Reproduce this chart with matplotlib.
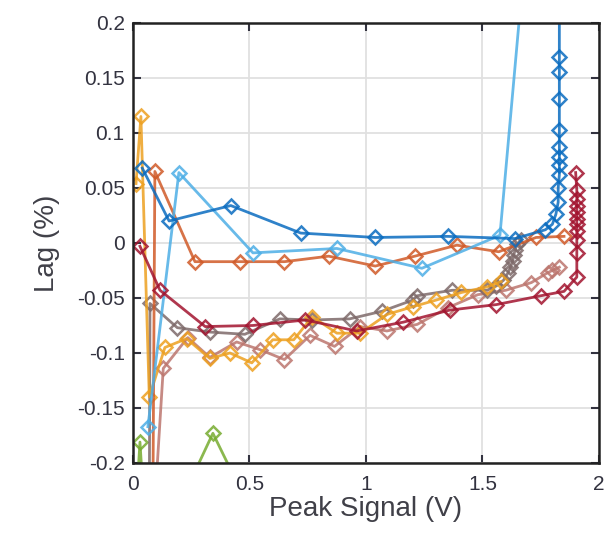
import numpy as np
import matplotlib.pyplot as plt

plt.rcParams['font.family'] = ['Liberation Sans', 'DejaVu Sans']

# peak signal (V) and lag (%) for each trace
x_blue = [0.04, 0.155, 0.42, 0.72, 1.04, 1.35, 1.64, 1.77, 1.80, 1.815, 1.825, 1.825, 1.83, 1.83, 1.83, 1.83, 1.83, 1.83, 1.83, 1.83, 1.83]
y_blue = [0.068, 0.020, 0.034, 0.009, 0.005, 0.006, 0.004, 0.012, 0.017, 0.026, 0.037, 0.050, 0.062, 0.071, 0.078, 0.087, 0.103, 0.131, 0.155, 0.169, 0.30]

x_lblue = [0.064, 0.197, 0.515, 0.875, 1.24, 1.575, 1.72]
y_lblue = [-0.167, 0.064, -0.009, -0.005, -0.023, 0.007, 0.35]

x_ored = [0.085, 0.094, 0.266, 0.46, 0.65, 0.84, 1.04, 1.21, 1.39, 1.57, 1.73, 1.85]
y_ored = [-0.25, 0.065, -0.017, -0.017, -0.017, -0.012, -0.021, -0.012, -0.002, -0.008, 0.005, 0.006]

x_orange = [0.013, 0.034, 0.07, 0.137, 0.23, 0.33, 0.416, 0.51, 0.60, 0.69, 0.77, 0.875, 0.975, 1.09, 1.20, 1.30, 1.41, 1.52, 1.58]
y_orange = [0.054, 0.115, -0.14, -0.095, -0.087, -0.105, -0.100, -0.109, -0.088, -0.088, -0.067, -0.082, -0.082, -0.065, -0.058, -0.052, -0.045, -0.040, -0.035]

x_green = [0.01, 0.03, 0.05, 0.25, 0.343, 0.44]
y_green = [-0.25, -0.181, -0.25, -0.215, -0.173, -0.215]

x_dred = [0.03, 0.116, 0.31, 0.515, 0.74, 0.96, 1.16, 1.36, 1.56, 1.75, 1.85, 1.905, 1.905, 1.905, 1.905, 1.905, 1.905, 1.905, 1.905, 1.905, 1.905, 1.90]
y_dred = [-0.003, -0.043, -0.076, -0.075, -0.070, -0.080, -0.072, -0.061, -0.056, -0.048, -0.044, -0.031, -0.009, 0.003, 0.011, 0.017, 0.022, 0.028, 0.034, 0.040, 0.048, 0.064]

x_gray = [0.07, 0.073, 0.19, 0.33, 0.48, 0.63, 0.77, 0.93, 1.07, 1.20, 1.22, 1.37, 1.52, 1.56, 1.59, 1.61, 1.62, 1.63, 1.635, 1.64, 1.65, 1.665]
y_gray = [-0.25, -0.055, -0.077, -0.081, -0.083, -0.069, -0.070, -0.069, -0.062, -0.052, -0.048, -0.043, -0.043, -0.039, -0.034, -0.027, -0.022, -0.016, -0.011, -0.006, -0.001, 0.003]

x_pink = [0.09, 0.13, 0.235, 0.33, 0.445, 0.545, 0.65, 0.76, 0.865, 0.975, 1.09, 1.22, 1.35, 1.48, 1.60, 1.71, 1.78, 1.80, 1.83]
y_pink = [-0.25, -0.114, -0.086, -0.104, -0.090, -0.097, -0.106, -0.084, -0.094, -0.076, -0.080, -0.074, -0.059, -0.047, -0.043, -0.036, -0.027, -0.025, -0.022]

series = [
    (x_green, y_green, '#77AC30'),
    (x_pink, y_pink, '#BC766E'),
    (x_gray, y_gray, '#7E6A6A'),
    (x_orange, y_orange, '#EDA020'),
    (x_ored, y_ored, '#D05A28'),
    (x_lblue, y_lblue, '#4DAEE6'),
    (x_dred, y_dred, '#A2142F'),
    (x_blue, y_blue, '#0A6CC0'),
]

fig = plt.figure(figsize=(6.05, 5.34), dpi=100)
ax = fig.add_axes([0.2198, 0.133, 0.7702, 0.824])

for xs, ys, c in series:
    ax.plot(xs, ys, color=c, lw=2, marker='D', markersize=7.5,
            markerfacecolor='none', markeredgewidth=1.8, alpha=0.85)

ax.set_xlim(0, 2)
ax.set_ylim(-0.2, 0.2)
ax.set_xticks([0, 0.5, 1, 1.5, 2])
ax.set_xticklabels(['0', '0.5', '1', '1.5', '2'])
ax.set_yticks(np.arange(-0.2, 0.201, 0.05))
ax.set_yticklabels(['-0.2', '-0.15', '-0.1', '-0.05', '0', '0.05', '0.1', '0.15', '0.2'])
ax.grid(True, color='#e0e0e0', lw=1.3)
ax.set_axisbelow(True)
ax.tick_params(direction='in', length=6, width=1.5, top=True, right=True,
               labelsize=15, colors='#333340')
ax.tick_params(axis='x', pad=9)
ax.tick_params(axis='y', pad=6)
for s in ax.spines.values():
    s.set_linewidth(1.8)
    s.set_color('#222222')

ax.set_xlabel('Peak Signal (V)', fontsize=20, color='#404048', labelpad=1)
ax.set_ylabel('Lag (%)', fontsize=20, color='#404048', labelpad=12)

fig.savefig('out.png', dpi=100)
